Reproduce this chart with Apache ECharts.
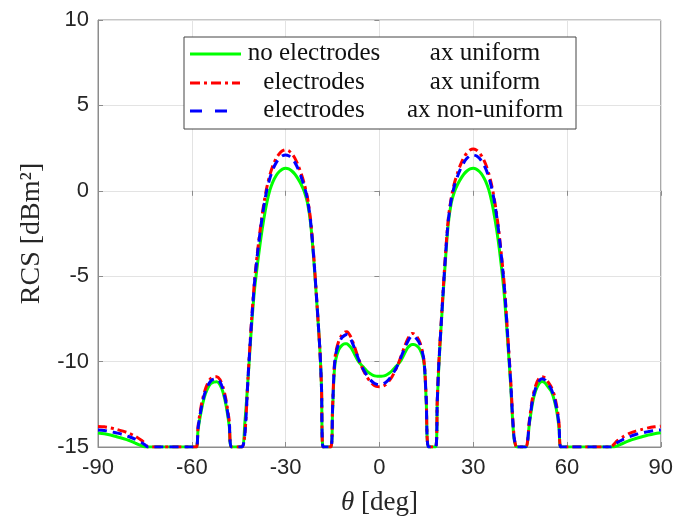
<!DOCTYPE html>
<html><head><meta charset="utf-8">
<script src="https://cdn.jsdelivr.net/npm/echarts@6/dist/echarts.min.js"></script>
<style>html,body{margin:0;padding:0;background:#fff;}#c{width:676px;height:521px;}</style>
</head><body><div id="c"></div>
<script>
// angle samples (deg)
const thetaLeft = [-90,-88,-86,-84,-82,-80,-78,-76,-75,-74,
 -60,-58.5,-58,-57,-56,-55,-54,-53,-52,-51,
 -50,-49,-48,-47.3,-44,-43,-42,-41,-40,-39,
 -38,-37,-36,-35,-34,-33,-32,-31,-30,-29,
 -28,-27,-26,-25,-24,-23,-22,-21,-20,-19,
 -18.5,-18,-15.5,-15,-14.5,-14,-13,-12,-11,-10.5,
 -10,-9,-8,-7,-6,-5,-4,-3,-2,-1,
 0];
const thetaRight = [1,2,3,4,5,6,7,8,9,10,
 10.5,11,12,13,14,14.5,15,15.7,18,18.5,
 19,20,21,22,23,24,25,26,27,28,
 29,30,31,32,33,34,35,36,37,38,
 39,40,41,42,43,44,46.8,48,49,50,
 51,52,53,54,55,56,57,57.5,58,60,
 74,75,76,78,80,82,84,86,88,90];

// no electrodes, ax uniform (green)
const greenLeft = [-14.18,-14.22,-14.3,-14.4,-14.5,-14.62,-14.78,-14.93,-15,-15,
 -15,-15,-14.0,-12.9,-12.1,-11.6,-11.3,-11.2,-11.18,-11.35,
 -11.8,-12.6,-13.8,-15,-15,-13.5,-11.0,-8.2,-5.9,-4.3,
 -2.9,-1.7,-0.7,0.05,0.55,0.9,1.13,1.27,1.32,1.28,
 1.16,0.97,0.7,0.37,-0.05,-0.7,-1.9,-4.0,-6.6,-9.4,
 -11.6,-15,-15,-13.0,-10.8,-9.9,-9.3,-9.05,-8.95,-8.95,
 -9.0,-9.2,-9.55,-9.9,-10.15,-10.35,-10.55,-10.7,-10.8,-10.85,
 -10.86];
const greenRight = [-10.85,-10.8,-10.7,-10.55,-10.35,-10.15,-9.9,-9.55,-9.2,-9.03,
 -9.0,-9.0,-9.08,-9.3,-9.8,-10.5,-12.4,-15,-15,-12.5,
 -10.3,-7.2,-4.4,-2.0,-0.7,-0.05,0.37,0.7,0.97,1.16,
 1.28,1.32,1.27,1.13,0.9,0.55,0.05,-0.7,-1.7,-2.9,
 -4.4,-6.2,-8.7,-11.4,-14.4,-15,-15,-13.6,-12.4,-11.7,
 -11.3,-11.17,-11.25,-11.5,-11.75,-12.3,-13.2,-14.0,-15,-15,
 -15,-15,-14.93,-14.78,-14.62,-14.5,-14.4,-14.3,-14.22,-14.16];

// electrodes, ax uniform (red)
const redLeft = [-13.8,-13.82,-13.88,-13.97,-14.07,-14.2,-14.38,-14.62,-14.78,-15,
 -15,-15,-13.8,-12.6,-11.8,-11.3,-11.0,-10.9,-10.88,-11.05,
 -11.5,-12.3,-13.5,-15,-15,-14.2,-10.9,-7.9,-5.4,-3.6,
 -2.1,-0.8,0.2,0.95,1.5,1.9,2.17,2.34,2.4,2.34,
 2.17,1.9,1.5,1.0,0.4,-0.4,-1.7,-3.8,-6.5,-9.4,
 -11.6,-15,-15,-12.8,-10.5,-9.5,-8.8,-8.45,-8.27,-8.25,
 -8.3,-8.6,-9.1,-9.65,-10.15,-10.55,-10.9,-11.15,-11.35,-11.45,
 -11.47];
const redRight = [-11.45,-11.35,-11.15,-10.9,-10.55,-10.15,-9.65,-9.15,-8.7,-8.4,
 -8.35,-8.37,-8.55,-8.9,-9.6,-10.4,-12.2,-15,-15,-12.3,
 -10.1,-7.0,-4.1,-1.7,-0.4,0.45,1.05,1.55,1.95,2.22,
 2.39,2.45,2.39,2.22,1.95,1.55,1.0,0.25,-0.75,-2.05,
 -3.7,-5.6,-8.3,-11.1,-14.2,-15,-15,-13.4,-12.1,-11.4,
 -11.0,-10.88,-10.95,-11.2,-11.5,-12.0,-12.9,-13.7,-15,-15,
 -15,-14.85,-14.65,-14.4,-14.2,-14.07,-13.97,-13.88,-13.82,-13.78];

// electrodes, ax non-uniform (blue)
const blueLeft = [-14.0,-14.03,-14.1,-14.18,-14.27,-14.4,-14.55,-14.75,-14.87,-15,
 -15,-15,-13.9,-12.75,-11.95,-11.45,-11.15,-11.03,-11.0,-11.18,
 -11.63,-12.45,-13.65,-15,-15,-14.2,-10.9,-8.0,-5.5,-3.7,
 -2.2,-0.95,0.05,0.75,1.28,1.65,1.9,2.05,2.1,2.05,
 1.9,1.65,1.28,0.8,0.25,-0.5,-1.8,-3.9,-6.5,-9.4,
 -11.6,-15,-15,-12.9,-10.6,-9.6,-8.95,-8.6,-8.45,-8.42,
 -8.45,-8.75,-9.2,-9.7,-10.15,-10.5,-10.8,-11.05,-11.22,-11.32,
 -11.35];
const blueRight = [-11.32,-11.22,-11.05,-10.8,-10.5,-10.15,-9.7,-9.25,-8.85,-8.55,
 -8.5,-8.52,-8.68,-9.0,-9.65,-10.45,-12.3,-15,-15,-12.4,
 -10.2,-7.1,-4.2,-1.8,-0.5,0.3,0.85,1.3,1.65,1.9,
 2.05,2.1,2.05,1.9,1.65,1.3,0.8,0.1,-0.85,-2.15,
 -3.8,-5.7,-8.4,-11.2,-14.3,-15,-15,-13.5,-12.25,-11.55,
 -11.15,-11.0,-11.08,-11.33,-11.62,-12.15,-13.05,-13.85,-15,-15,
 -15,-14.92,-14.75,-14.55,-14.4,-14.27,-14.18,-14.1,-14.03,-14.0];

const xTicks = [-90, -60, -30, 0, 30, 60, 90];
const yTicks = [-15, -10, -5, 0, 5, 10];
const legendCol1 = ['no electrodes', 'electrodes', 'electrodes'];
const legendCol2 = ['ax uniform', 'ax uniform', 'ax non-uniform'];

const theta = thetaLeft.concat(thetaRight);
const green = greenLeft.concat(greenRight);
const red = redLeft.concat(redRight);
const blue = blueLeft.concat(blueRight);
const pairs = v => theta.map((t, i) => [t, v[i]]);

const axisColor = '#8c8c8c';
const textColor = '#262626';
const gridColor = '#e3e3e3';
const tickFont = {color: textColor, fontSize: 22, fontFamily: 'Liberation Sans, Arial, sans-serif'};

const chart = echarts.init(document.getElementById('c'), null, {renderer: 'canvas'});

const rowsY = [54, 83, 111];
const legendLines = [
  {color: '#00ff00', dash: null, x2: 241},
  {color: '#ff0000', dash: [10, 4, 3, 4], x2: 240},
  {color: '#0000ff', dash: [12, 13], x2: 229}
];
const graphics = [{
  type: 'rect', shape: {x: 184, y: 37, width: 392, height: 92},
  style: {fill: '#fff', stroke: '#444', lineWidth: 1}, z: 100
}];
legendLines.forEach((l, i) => {
  graphics.push({type: 'line', shape: {x1: 190, y1: rowsY[i], x2: l.x2, y2: rowsY[i]},
    style: {stroke: l.color, lineWidth: 3, lineDash: l.dash}, z: 101});
  graphics.push({type: 'text', x: 314, y: rowsY[i] - 1, style: {text: legendCol1[i], textAlign: 'center', textVerticalAlign: 'middle',
    font: '25px "Liberation Serif", serif', fill: '#111'}, z: 101});
  graphics.push({type: 'text', x: 485, y: rowsY[i] - 1, style: {text: legendCol2[i], textAlign: 'center', textVerticalAlign: 'middle',
    font: '25px "Liberation Serif", serif', fill: '#111'}, z: 101});
});

chart.setOption({
  animation: false,
  backgroundColor: '#fff',
  grid: {left: 98, top: 20, right: 15, bottom: 74, show: true, borderColor: axisColor, borderWidth: 1, backgroundColor: 'transparent'},
  xAxis: [{
    type: 'value', min: -90, max: 90, interval: 30,
    axisLine: {show: true, onZero: false, lineStyle: {color: axisColor}},
    axisTick: {show: true, inside: true, length: 5, lineStyle: {color: axisColor}},
    axisLabel: Object.assign({margin: 10, formatter: v => xTicks.includes(v) ? String(v) : ''}, tickFont),
    splitLine: {show: true, lineStyle: {color: gridColor, width: 1}},
    name: '{i|θ} [deg]', nameLocation: 'middle', nameGap: 42,
    nameTextStyle: {color: textColor, fontSize: 27, fontFamily: 'Liberation Serif, serif',
      rich: {i: {fontStyle: 'italic', fontSize: 27, fontFamily: 'Liberation Serif, serif', color: textColor}}}
  }, {
    type: 'value', position: 'top', min: -90, max: 90, interval: 30,
    axisLine: {show: false}, axisLabel: {show: false}, splitLine: {show: false},
    axisTick: {show: true, inside: true, length: 5, lineStyle: {color: axisColor}}
  }],
  yAxis: [{
    type: 'value', min: -15, max: 10, interval: 5,
    axisLine: {show: true, onZero: false, lineStyle: {color: axisColor}},
    axisTick: {show: true, inside: true, length: 5, lineStyle: {color: axisColor}},
    axisLabel: Object.assign({margin: 9, formatter: v => yTicks.includes(v) ? String(v) : ''}, tickFont),
    splitLine: {show: true, lineStyle: {color: gridColor, width: 1}},
    name: 'RCS [dBm²]', nameLocation: 'middle', nameGap: 52,
    nameTextStyle: {color: textColor, fontSize: 28, fontFamily: 'Liberation Serif, serif'}
  }, {
    type: 'value', position: 'right', min: -15, max: 10, interval: 5,
    axisLine: {show: false}, axisLabel: {show: false}, splitLine: {show: false},
    axisTick: {show: true, inside: true, length: 5, lineStyle: {color: axisColor}}
  }],
  series: [
    {name: 'no electrodes ax uniform', type: 'line', data: pairs(green), showSymbol: false, smooth: 0.25, clip: true,
      lineStyle: {color: '#00ff00', width: 3}, z: 3},
    {name: 'electrodes ax uniform', type: 'line', data: pairs(red), showSymbol: false, smooth: 0.25, clip: true,
      lineStyle: {color: '#ff0000', width: 3, type: [9, 4, 3, 4]}, z: 4},
    {name: 'electrodes ax non-uniform', type: 'line', data: pairs(blue), showSymbol: false, smooth: 0.25, clip: true,
      lineStyle: {color: '#0000ff', width: 3, type: [9, 6]}, z: 5}
  ],
  graphic: graphics
});
</script></body></html>
